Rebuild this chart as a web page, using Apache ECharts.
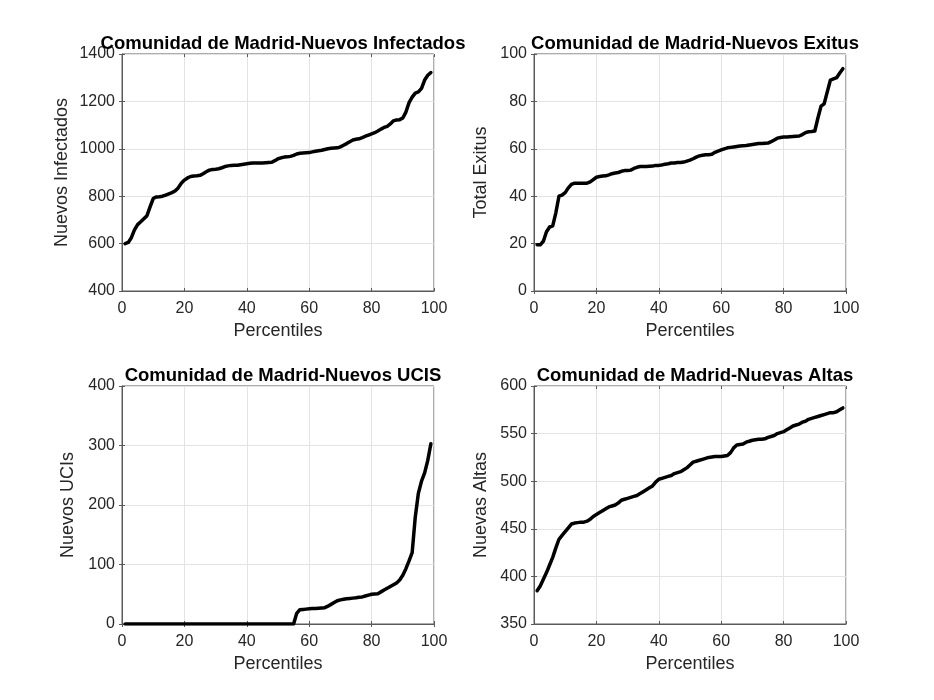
<!DOCTYPE html>
<html>
<head>
<meta charset="utf-8">
<script src="https://cdn.jsdelivr.net/npm/echarts@6/dist/echarts.min.js"></script>
<style>html,body{margin:0;padding:0;background:#fff;}#c{width:934px;height:700px;}</style>
</head>
<body>
<div id="c"></div>
<script>
const percentiles = [1,2,3,4,5,6,7,8,9,10,11,12,13,14,15,16,17,18,19,20,21,22,23,24,25,26,27,28,29,30,31,32,33,34,35,36,37,38,39,40,41,42,43,44,45,46,47,48,49,50,51,52,53,54,55,56,57,58,59,60,61,62,63,64,65,66,67,68,69,70,71,72,73,74,75,76,77,78,79,80,81,82,83,84,85,86,87,88,89,90,91,92,93,94,95,96,97,98,99];

const infectados = [600,605,625,658,680,692,705,718,755,790,
797,798,800,805,810,815,822,835,855,868,
877,883,885,886,888,895,903,910,913,914,
916,920,925,928,930,931,931,933,935,937,
939,940,940,940,940,941,942,943,950,958,
962,965,966,968,972,978,981,982,983,984,
987,990,992,994,997,1000,1002,1003,1004,1008,
1015,1022,1030,1037,1040,1042,1047,1053,1058,1063,
1068,1075,1083,1090,1095,1105,1118,1122,1123,1130,
1155,1195,1218,1235,1240,1255,1290,1310,1322];

const exitus = [19.5,19.5,21,25,27,27.5,33,40,40.5,41.5,
43.5,45,45.5,45.5,45.5,45.5,45.5,46,47,48,
48.3,48.5,48.6,49,49.5,49.8,50,50.5,50.8,50.8,
51,51.7,52.2,52.5,52.5,52.5,52.6,52.7,53,53,
53.2,53.5,53.7,54,54,54.2,54.2,54.4,54.8,55.2,
55.8,56.5,57,57.3,57.5,57.5,57.7,58.5,59,59.5,
60,60.4,60.6,60.8,61,61.2,61.3,61.4,61.6,61.8,
62,62.2,62.2,62.3,62.4,63,63.7,64.5,64.8,65,
65,65.1,65.2,65.3,65.4,66,66.8,67.2,67.3,67.5,
73,78,79,84,89,89.5,90,92,93.8];

const ucis = [0,0,0,0,0,0,0,0,0,0,
0,0,0,0,0,0,0,0,0,0,
0,0,0,0,0,0,0,0,0,0,
0,0,0,0,0,0,0,0,0,0,
0,0,0,0,0,0,0,0,0,0,
0,0,0,0,0,18,24,24.5,25,25.5,
26,26,26.5,27,27.5,30,33,36,39,40.5,
41.5,42.5,43,43.5,44,45,45.5,47,48.5,50,
50.5,51,54,57,60,63,66,69,74,82,
93,106,120,180,220,240,254,275,303];

const altas = [385,390,397,404,412,420,430,439,443,447,
451,455,456,456.5,457,457,458,460,463,465,
467,469,471,473,474,475,477,480,481,482,
483,484,485,487,489,491,493,495,499,502,
503,504,505,506,508,509,510,512,514,517,
520,521,522,523,524,525,525.5,526,526,526,
526.5,527,530,535,538,538.5,539,541,542,543,
543.5,544,544,544.5,546,547,548,550,551,552,
554,556,558,559,560,562,563,565,566,567,
568,569,570,571,572,572,573,575,577];

const titles = ['Comunidad de Madrid-Nuevos Infectados','Comunidad de Madrid-Nuevos Exitus','Comunidad de Madrid-Nuevos UCIS','Comunidad de Madrid-Nuevas Altas'];
const yNames = ['Nuevos Infectados','Total Exitus','Nuevos UCIs','Nuevas Altas'];
const xName = 'Percentiles';
const xRange = [0, 100, 20];
const yRanges = [[400,1400,200],[0,100,20],[0,400,100],[350,600,50]];
const seriesValues = [infectados, exitus, ucis, altas];

const FONT = 'Liberation Sans';
const grids = [
  {left:122, top:54, width:312, height:237},
  {left:534, top:54, width:312, height:237},
  {left:122, top:386, width:312, height:238},
  {left:534, top:386, width:312, height:238}
];
const nameGaps = [51, 44, 45, 44];
const titleTops = [29, 29, 361, 361];

const option = {
  backgroundColor:'#fff',
  animation:false,
  title: titles.map((t,i)=>({
    text:t, left: grids[i].left + grids[i].width/2, top: titleTops[i], textAlign:'center',
    textStyle:{fontFamily:FONT, fontWeight:'bold', fontSize:18.5, color:'#000'}
  })),
  grid: grids.map(g=>Object.assign({show:true, borderColor:'#5a5a5a', borderWidth:1, containLabel:false}, g)),
  xAxis: [],
  yAxis: [],
  series: []
};

for (let i=0;i<4;i++){
  option.xAxis.push({
    type:'value', gridIndex:i, min:xRange[0], max:xRange[1], interval:xRange[2],
    name:xName, nameLocation:'middle', nameGap:31,
    nameTextStyle:{fontFamily:FONT, fontSize:18, color:'#262626'},
    axisLine:{show:true, lineStyle:{color:'#5a5a5a', width:1}},
    axisTick:{show:true, inside:true, length:3, lineStyle:{color:'#5a5a5a'}},
    axisLabel:{fontFamily:FONT, fontSize:16, color:'#262626', margin:10, formatter:v=>String(v)},
    splitLine:{show:true, lineStyle:{color:'#e3e3e3', width:1}}
  });
  option.xAxis.push({
    type:'value', gridIndex:i, position:'top', min:xRange[0], max:xRange[1], interval:xRange[2],
    axisLine:{show:false}, axisTick:{show:true, inside:true, length:3, lineStyle:{color:'#5a5a5a'}},
    axisLabel:{show:false}, splitLine:{show:false}
  });
  const yr = yRanges[i];
  option.yAxis.push({
    type:'value', gridIndex:i, min:yr[0], max:yr[1], interval:yr[2],
    name:yNames[i], nameLocation:'middle', nameGap:nameGaps[i],
    nameTextStyle:{fontFamily:FONT, fontSize:18, color:'#262626'},
    axisLine:{show:true, lineStyle:{color:'#5a5a5a', width:1}},
    axisTick:{show:true, inside:true, length:3, lineStyle:{color:'#5a5a5a'}},
    axisLabel:{fontFamily:FONT, fontSize:16, color:'#262626', margin:7, formatter:v=>String(v)},
    splitLine:{show:true, lineStyle:{color:'#e3e3e3', width:1}}
  });
  option.yAxis.push({
    type:'value', gridIndex:i, position:'right', min:yr[0], max:yr[1], interval:yr[2],
    axisLine:{show:false}, axisTick:{show:true, inside:true, length:3, lineStyle:{color:'#5a5a5a'}},
    axisLabel:{show:false}, splitLine:{show:false}
  });
  option.series.push({
    type:'line', xAxisIndex:2*i, yAxisIndex:2*i,
    data: percentiles.map((p,k)=>[p, seriesValues[i][k]]),
    showSymbol:false, symbol:'none',
    lineStyle:{color:'#000', width:3.5, cap:'round', join:'round'},
    z:5
  });
}

const chart = echarts.init(document.getElementById('c'), null, {renderer:'canvas'});
chart.setOption(option);
</script>
</body>
</html>
